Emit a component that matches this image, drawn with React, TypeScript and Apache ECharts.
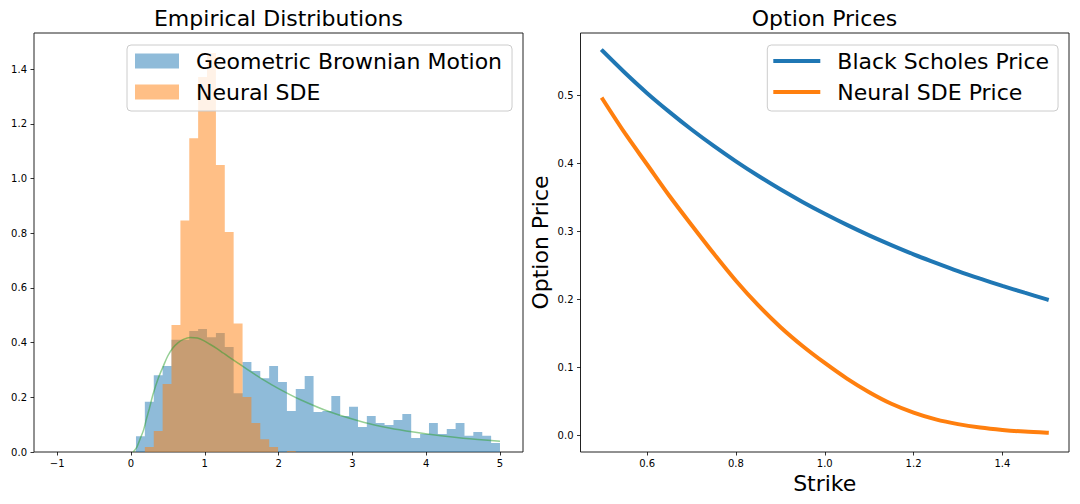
import React, { useEffect, useRef } from "react";
import * as echarts from "echarts";

// ---------- data ----------
const binEdges = [
  0.068, 0.188, 0.309, 0.429, 0.549, 0.67, 0.79, 0.91, 1.03, 1.151, 1.271, 1.391, 1.512, 1.632,
  1.752, 1.873, 1.993, 2.113, 2.233, 2.354, 2.474, 2.594, 2.715, 2.835, 2.955, 3.076, 3.196, 3.316,
  3.436, 3.557, 3.677, 3.797, 3.918, 4.038, 4.158, 4.279, 4.399, 4.519, 4.639, 4.76, 4.88, 5.0,
];
const gbmDensity = [
  0.058, 0.184, 0.281, 0.314, 0.41, 0.41, 0.442, 0.45, 0.42, 0.435, 0.384, 0.215, 0.329, 0.296,
  0.27, 0.314, 0.256, 0.15, 0.23, 0.278, 0.146, 0.15, 0.205, 0.132, 0.165, 0.091, 0.132, 0.106,
  0.099, 0.117, 0.139, 0.051, 0.066, 0.106, 0.066, 0.084, 0.106, 0.059, 0.073, 0.059, 0.033,
];
const neuralSdeDensity = [
  0, 0.018, 0.077, 0.249, 0.464, 0.846, 1.147, 1.371, 1.459, 1.049, 0.804, 0.47, 0.201, 0.106,
  0.047, 0.018, 0, 0.004,
];
const pdfX = [0.03, 0.08, 0.12, 0.17, 0.21, 0.25, 0.3, 0.37, 0.44, 0.5, 0.57, 0.64, 0.71, 0.8, 0.9, 0.98, 1.07, 1.16, 1.25, 1.34, 1.45, 1.57, 1.79, 2.0, 2.29, 2.7, 3.15, 3.5, 3.83, 4.2, 4.5, 5.0];
const pdfY = [0.0, 0.018, 0.045, 0.08, 0.121, 0.16, 0.212, 0.27, 0.315, 0.352, 0.381, 0.4, 0.412, 0.419, 0.417, 0.408, 0.394, 0.379, 0.362, 0.345, 0.325, 0.303, 0.265, 0.232, 0.192, 0.146, 0.109, 0.088, 0.073, 0.059, 0.05, 0.039];

const strikes = [0.5, 0.55, 0.6, 0.65, 0.7, 0.75, 0.8, 0.85, 0.9, 0.95, 1.0, 1.05, 1.1, 1.15, 1.2, 1.25, 1.3, 1.35, 1.4, 1.45, 1.5];
const blackScholesPrice = [0.565, 0.533, 0.503, 0.4755, 0.4495, 0.4253, 0.4026, 0.3814, 0.3615, 0.343, 0.3256, 0.3092, 0.2938, 0.2795, 0.2659, 0.2533, 0.2412, 0.23, 0.2194, 0.2094, 0.1995];
const neuralSdePrice = [0.494, 0.444, 0.398, 0.352, 0.309, 0.267, 0.227, 0.191, 0.159, 0.131, 0.106, 0.083, 0.063, 0.046, 0.033, 0.023, 0.016, 0.011, 0.0075, 0.005, 0.0035];

const leftXTicks = [-1, 0, 1, 2, 3, 4, 5];
const leftYTicks = [0, 0.2, 0.4, 0.6, 0.8, 1.0, 1.2, 1.4];
const rightXTicks = [0.6, 0.8, 1.0, 1.2, 1.4];
const rightYTicks = [0, 0.1, 0.2, 0.3, 0.4, 0.5];

const names = {
  gbm: "Geometric Brownian Motion",
  sde: "Neural SDE",
  bs: "Black Scholes Price",
  sdeP: "Neural SDE Price",
};

const BLUE_A = "rgba(31,119,180,0.5)";
const ORANGE_A = "rgba(255,127,14,0.5)";
const FONT = "DejaVu Sans";

// histogram outline as step points: each bin starts at its left edge, last point closes at the right edge
function stepPoints(heights: number[]) {
  const pts = heights.map((h, i) => [binEdges[i], h]);
  pts.push([binEdges[heights.length], heights[heights.length - 1]]);
  return pts;
}

const minusFmt = (v: number) => (v < 0 ? "\u2212" + Math.abs(v) : String(v));
const fixed1 = (v: number) => v.toFixed(1);

function axisCommon(ticks: number[], fmt: (v: number) => string, margin: number) {
  return {
    axisLine: { show: false, onZero: false },
    splitLine: { show: false },
    axisTick: {
      show: true,
      customValues: ticks,
      length: 3.5,
      lineStyle: { color: "#000", width: 0.8 },
    },
    axisLabel: {
      customValues: ticks,
      formatter: fmt,
      color: "#000",
      fontSize: 10,
      fontFamily: FONT,
      margin,
    },
  };
}

const legendBase = {
  orient: "vertical",
  selectedMode: false,
  backgroundColor: "rgba(255,255,255,0.8)",
  borderColor: "#cccccc",
  borderWidth: 1,
  borderRadius: 4,
  itemGap: 7,
  z: 10,
  textStyle: {
    fontSize: 22,
    fontFamily: FONT,
    color: "#000",
    lineHeight: 24,
    padding: [0, 0, 0, 12],
  },
};

function histSeries(name: string, heights: number[], color: string) {
  return {
    name,
    type: "line",
    xAxisIndex: 0,
    yAxisIndex: 0,
    step: "end",
    showSymbol: false,
    symbol: "none",
    itemStyle: { color },
    lineStyle: { width: 0, opacity: 0 },
    areaStyle: { color, opacity: 1, origin: "start" },
    data: stepPoints(heights),
    silent: true,
  };
}

export default function App() {
  const ref = useRef<HTMLDivElement>(null);
  useEffect(() => {
    const chart = echarts.init(ref.current!, null, { renderer: "svg" });
    const option: any = {
      animation: false,
      backgroundColor: "#fff",
      textStyle: { fontFamily: FONT },
      title: [
        {
          text: "Empirical Distributions",
          left: 278.5,
          textAlign: "center",
          top: 7,
          padding: 0,
          textStyle: { fontSize: 22, fontWeight: "normal", color: "#000", fontFamily: FONT },
        },
        {
          text: "Option Prices",
          left: 824.5,
          textAlign: "center",
          top: 7,
          padding: 0,
          textStyle: { fontSize: 22, fontWeight: "normal", color: "#000", fontFamily: FONT },
        },
      ],
      grid: [
        { left: 34, top: 33, width: 489, height: 419, show: true, borderColor: "#222", borderWidth: 1, backgroundColor: "transparent" },
        { left: 580.5, top: 33, width: 488.5, height: 419, show: true, borderColor: "#222", borderWidth: 1, backgroundColor: "transparent" },
      ],
      xAxis: [
        { type: "value", gridIndex: 0, min: -1.314, max: 5.312, ...axisCommon(leftXTicks, minusFmt, 6) },
        {
          type: "value",
          gridIndex: 1,
          min: 0.45,
          max: 1.55,
          name: "Strike",
          nameLocation: "middle",
          nameGap: 16,
          nameTextStyle: { fontSize: 22, fontFamily: FONT, color: "#000" },
          ...axisCommon(rightXTicks, fixed1, 6),
        },
      ],
      yAxis: [
        { type: "value", gridIndex: 0, min: 0, max: 1.532, ...axisCommon(leftYTicks, fixed1, 7) },
        {
          type: "value",
          gridIndex: 1,
          min: -0.025,
          max: 0.5915,
          name: "Option Price",
          nameLocation: "middle",
          nameGap: 29,
          nameTextStyle: { fontSize: 22, fontFamily: FONT, color: "#000" },
          ...axisCommon(rightYTicks, fixed1, 7),
        },
      ],
      legend: [
        {
          ...legendBase,
          left: 127,
          top: 45,
          padding: [4, 10, 7, 8],
          itemWidth: 44,
          itemHeight: 15,
          data: [
            { name: names.gbm, icon: "rect", itemStyle: { color: BLUE_A } },
            { name: names.sde, icon: "rect", itemStyle: { color: ORANGE_A } },
          ],
        },
        {
          ...legendBase,
          left: 767.3,
          top: 45,
          padding: [4, 9, 7, 6],
          itemWidth: 47,
          itemHeight: 4,
          data: [
            { name: names.bs, icon: "rect", itemStyle: { color: "#1f77b4" } },
            { name: names.sdeP, icon: "rect", itemStyle: { color: "#ff7f0e" } },
          ],
        },
      ],
      series: [
        histSeries(names.gbm, gbmDensity, BLUE_A),
        histSeries(names.sde, neuralSdeDensity, ORANGE_A),
        {
          name: "GBM density",
          type: "line",
          xAxisIndex: 0,
          yAxisIndex: 0,
          showSymbol: false,
          symbol: "none",
          smooth: 0.3,
          lineStyle: { color: "rgba(44,160,44,0.5)", width: 1.5 },
          data: pdfX.map((x, i) => [x, pdfY[i]]),
          silent: true,
          z: 3,
        },
        {
          name: names.bs,
          type: "line",
          xAxisIndex: 1,
          yAxisIndex: 1,
          showSymbol: false,
          symbol: "none",
          smooth: 0.3,
          itemStyle: { color: "#1f77b4" },
          lineStyle: { color: "#1f77b4", width: 4, cap: "square" },
          data: strikes.map((x, i) => [x, blackScholesPrice[i]]),
          silent: true,
        },
        {
          name: names.sdeP,
          type: "line",
          xAxisIndex: 1,
          yAxisIndex: 1,
          showSymbol: false,
          symbol: "none",
          smooth: 0.3,
          itemStyle: { color: "#ff7f0e" },
          lineStyle: { color: "#ff7f0e", width: 4, cap: "square" },
          data: strikes.map((x, i) => [x, neuralSdePrice[i]]),
          silent: true,
        },
      ],
    };
    chart.setOption(option);
    return () => chart.dispose();
  }, []);
  return (
    <div
      ref={ref}
      style={{ position: "fixed", left: 0, top: 0, width: 1080, height: 504, background: "#fff" }}
    />
  );
}
